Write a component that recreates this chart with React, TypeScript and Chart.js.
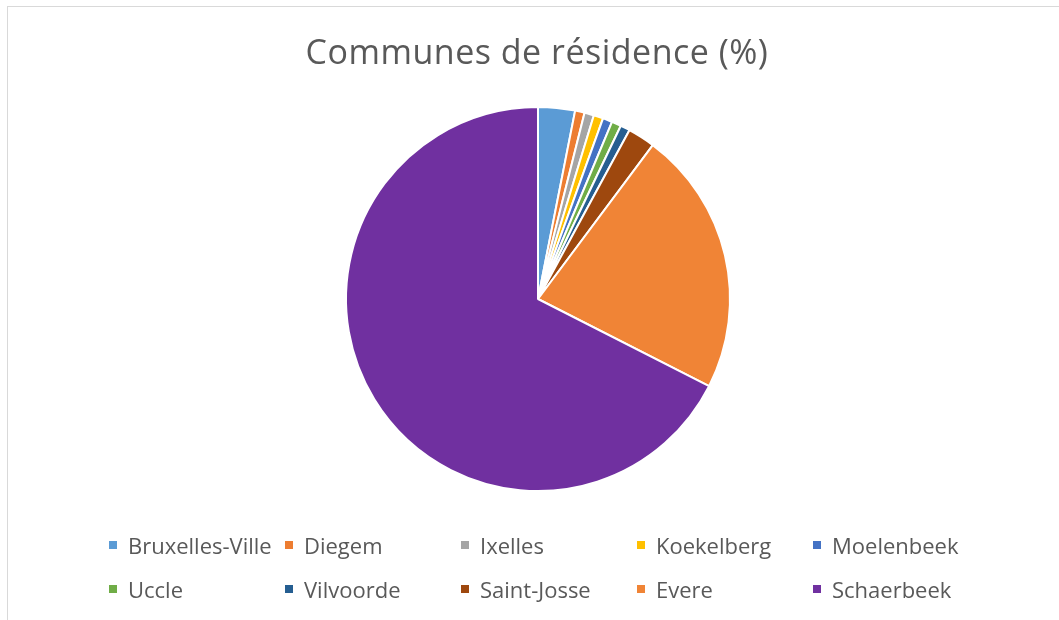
import React, { useEffect, useRef } from "react";
import { Chart, registerables } from "chart.js";

Chart.register(...registerables);

const labels = [
  "Bruxelles-Ville",
  "Diegem",
  "Ixelles",
  "Koekelberg",
  "Moelenbeek",
  "Uccle",
  "Vilvoorde",
  "Saint-Josse",
  "Evere",
  "Schaerbeek",
];
const values = [3.1, 0.8, 0.8, 0.8, 0.8, 0.8, 0.8, 2.3, 22.3, 67.5];
const colors = [
  "#5B9BD5",
  "#ED7D31",
  "#A5A5A5",
  "#FFC000",
  "#4472C4",
  "#70AD47",
  "#255E91",
  "#9E480E",
  "#F08436",
  "#7030A0",
];
const title = "Communes de résidence (%)";

export default function App() {
  const ref = useRef<HTMLCanvasElement | null>(null);
  useEffect(() => {
    document.body.style.margin = "0";
    const chart = new Chart(ref.current!, {
      type: "pie",
      data: {
        labels,
        datasets: [
          {
            data: values,
            backgroundColor: colors,
            borderColor: "#ffffff",
            borderWidth: 2,
          },
        ],
      },
      options: {
        animation: false,
        responsive: false,
        layout: { padding: { top: 106, bottom: 128, left: 294, right: 277 } },
        plugins: {
          legend: { display: false },
          title: { display: false },
          tooltip: { enabled: false },
        },
      },
    });
    return () => chart.destroy();
  }, []);

  const font = "'Open Sans', 'Liberation Sans', sans-serif";
  return (
    <div style={{ position: "relative", width: 1059, height: 620, background: "#fff", overflow: "hidden" }}>
      <div
        style={{
          position: "absolute",
          left: 7,
          top: 6,
          width: 1100,
          height: 700,
          border: "1px solid #d9d9d9",
          boxSizing: "border-box",
        }}
      />
      <canvas ref={ref} width={1059} height={620} style={{ position: "absolute", left: 0, top: 0 }} />
      <div
        style={{
          position: "absolute",
          left: 0,
          width: 1074,
          top: 28,
          textAlign: "center",
          fontFamily: font,
          fontSize: 34,
          letterSpacing: 0.5,
          color: "#595959",
          lineHeight: "46px",
        }}
      >
        {title}
      </div>
      {labels.map((l, i) => {
        const col = i % 5;
        const row = Math.floor(i / 5);
        return (
          <div
            key={l}
            style={{
              position: "absolute",
              left: 109 + col * 176,
              top: 530 + row * 44,
              height: 30,
              display: "flex",
              alignItems: "center",
              fontFamily: font,
              fontSize: 22,
              color: "#595959",
              whiteSpace: "nowrap",
            }}
          >
            <span
              style={{
                display: "inline-block",
                width: 8,
                height: 8,
                background: colors[i],
                marginRight: 11,
              }}
            />
            {l}
          </div>
        );
      })}
    </div>
  );
}
